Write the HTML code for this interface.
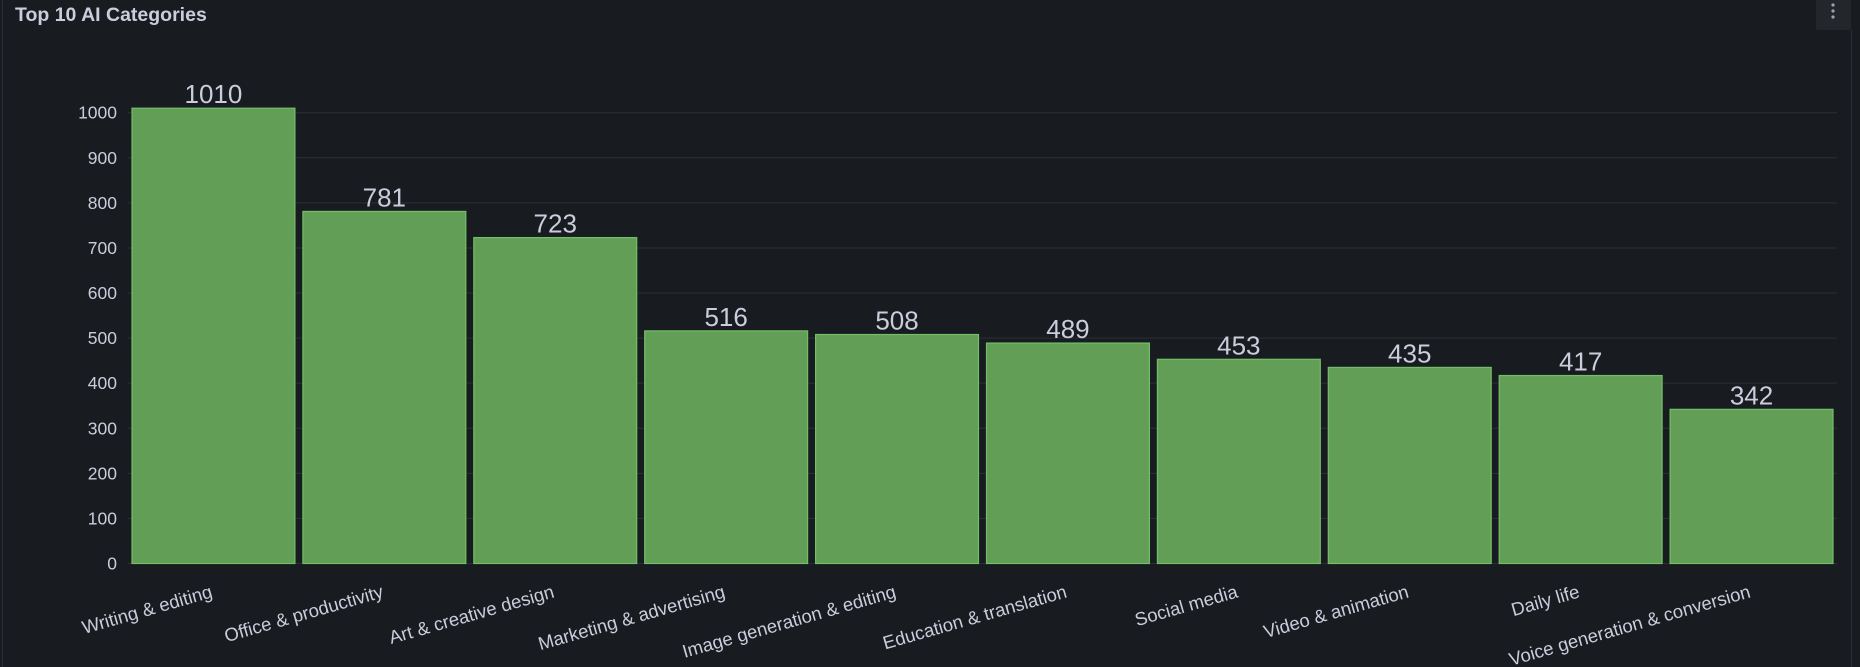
<!DOCTYPE html>
<html><head><meta charset="utf-8"><style>
html,body{margin:0;padding:0;background:#181b1f;width:1860px;height:667px;overflow:hidden;font-family:"Liberation Sans",sans-serif;}
svg{display:block}
</style></head><body>
<svg width="1860" height="667" id="chart">
<rect x="0" y="0" width="1860" height="667" fill="#181b1f"/>
<line x1="2.5" y1="0" x2="2.5" y2="667" stroke="#2a2d33"/>
<line x1="1851.5" y1="30" x2="1851.5" y2="667" stroke="#2a2d33"/>
<text x="15" y="21" fill="#ccccdc" font-size="19.5" font-weight="bold">Top 10 AI Categories</text>
<g>
<rect x="1816" y="0" width="35" height="30" rx="2" fill="#23262b"/>
<circle cx="1833" cy="5" r="1.6" fill="#9fa1aa"/><circle cx="1833" cy="11" r="1.6" fill="#9fa1aa"/><circle cx="1833" cy="17" r="1.6" fill="#9fa1aa"/>
</g>
<g id="grid"></g><g id="bars"></g><g id="labels"></g>
</svg>
<script>
const categories = ["Writing & editing","Office & productivity","Art & creative design","Marketing & advertising","Image generation & editing","Education & translation","Social media","Video & animation","Daily life","Voice generation & conversion"];
const values = [1010,781,723,516,508,489,453,435,417,342];
const yTicks = [0,100,200,300,400,500,600,700,800,900,1000];

const NS="http://www.w3.org/2000/svg";
const plotL=128, plotR=1837, y0=563.5, y1000=112.7;
const yScale=v=>y0-(v/1000)*(y0-y1000);
const band=(plotR-plotL)/categories.length;
const xCenter=i=>plotL+band*(i+0.5);
const barW=band-8;
function mk(tag,attrs,parent){const e=document.createElementNS(NS,tag);for(const k in attrs)e.setAttribute(k,attrs[k]);parent.appendChild(e);return e;}
const grid=document.getElementById('grid'),bars=document.getElementById('bars'),labels=document.getElementById('labels');
yTicks.forEach(t=>{
  const l=mk('line',{x1:plotL,x2:plotR,y1:yScale(t),y2:yScale(t),stroke:'#2c2f34','stroke-width':1},grid);
  
  
  const tx=mk('text',{x:117,y:yScale(t)+6,fill:'#ccccdc','font-size':17.5,'text-anchor':'end'},grid);
  tx.textContent=t;
  
  
});
values.forEach((v,i)=>{
  const cx=xCenter(i);
  const r=mk('rect',{x:cx-barW/2,y:yScale(v),width:barW,height:y0-yScale(v),fill:'#629e55',stroke:'#73bf69','stroke-width':1.2},bars);
  
  
  const vl=mk('text',{x:cx,y:yScale(v)-5,fill:'#ccccdc','font-size':26,'text-anchor':'middle'},labels);
  vl.textContent=v;
  
  
  const ex=cx, ey=597;
  const xl=mk('text',{x:ex,y:ey,fill:'#ccccdc','font-size':18.5,'text-anchor':'end',transform:'rotate(-16 '+ex+' '+ey+')'},labels);
  xl.textContent=categories[i];
  
  
});
</script>
</body></html>
